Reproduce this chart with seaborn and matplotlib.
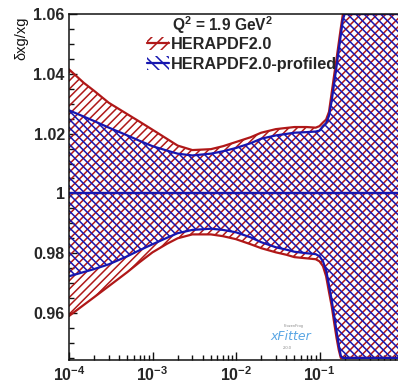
import matplotlib
matplotlib.use("Agg")
import matplotlib.pyplot as plt
from matplotlib.patches import Patch
from matplotlib.lines import Line2D
from matplotlib.legend_handler import HandlerTuple
from matplotlib.ticker import FixedLocator, FixedFormatter, LogLocator, NullFormatter, MultipleLocator
import seaborn as sns

# x grid and relative uncertainty bands of the gluon PDF at Q^2 = 1.9 GeV^2
x = [1e-4, 1.5e-4, 2e-4, 3e-4, 5e-4, 7e-4, 1e-3, 1.5e-3, 2e-3, 3e-3, 5e-3,
     7e-3, 1e-2, 1.5e-2, 2e-2, 3e-2, 4e-2, 5e-2, 7e-2, 0.09, 0.10, 0.11,
     0.12, 0.13, 0.14, 0.15, 0.16, 0.17, 0.18, 0.19, 0.20, 0.30, 0.50, 1.0]

hera_up = [1.0415, 1.0370, 1.0343, 1.0303, 1.0265, 1.0240, 1.0213, 1.0182,
           1.0160, 1.0145, 1.0148, 1.0158, 1.0172, 1.0188, 1.0203, 1.0215,
           1.0219, 1.0222, 1.0222, 1.0220, 1.0225, 1.0237, 1.0247, 1.0273,
           1.0337, 1.0397, 1.0450, 1.0503, 1.0553, 1.0597, 1.06, 1.06, 1.06,
           1.06]
hera_lo = [0.9590, 0.9627, 0.9653, 0.9690, 0.9737, 0.9770, 0.9803, 0.9832,
           0.9850, 0.9863, 0.9863, 0.9857, 0.9847, 0.9830, 0.9817, 0.9803,
           0.9795, 0.9787, 0.9783, 0.9780, 0.9773, 0.9757, 0.9723, 0.9670,
           0.9623, 0.9567, 0.9517, 0.9477, 0.945, 0.945, 0.945, 0.945, 0.945,
           0.945]
prof_up = [1.0278, 1.0257, 1.0242, 1.0220, 1.0194, 1.0176, 1.0158, 1.0143,
           1.0133, 1.0127, 1.0133, 1.0141, 1.0152, 1.0168, 1.0183, 1.0194,
           1.0199, 1.0203, 1.0205, 1.0207, 1.0210, 1.0225, 1.0235, 1.0260,
           1.0310, 1.0370, 1.0425, 1.0480, 1.0530, 1.0580, 1.06, 1.06, 1.06,
           1.06]
prof_lo = [0.9723, 0.9737, 0.9747, 0.9763, 0.9790, 0.9810, 0.9830, 0.9852,
           0.9867, 0.9878, 0.9882, 0.9878, 0.9870, 0.9853, 0.9837, 0.9820,
           0.9812, 0.9805, 0.9800, 0.9797, 0.9790, 0.9773, 0.9743, 0.9693,
           0.9643, 0.9590, 0.9540, 0.9493, 0.9457, 0.945, 0.945, 0.945, 0.945,
           0.945]
central = 1.0

x_ticks = [1e-4, 1e-3, 1e-2, 1e-1]
x_labels = ["$10^{-4}$", "$10^{-3}$", "$10^{-2}$", "$10^{-1}$"]
y_ticks = [0.96, 0.98, 1.00, 1.02, 1.04, 1.06]
y_labels = ["0.96", "0.98", "1", "1.02", "1.04", "1.06"]

labels = ["HERAPDF2.0", "HERAPDF2.0-profiled"]
RED = "#b01818"
BLUE = "#1616b0"
HATCH_RED = "////"
HATCH_BLUE = "\\\\\\\\"

sns.set_style("ticks")
plt.rcParams["font.family"] = ["Liberation Sans", "DejaVu Sans"]
plt.rcParams["mathtext.fontset"] = "custom"
plt.rcParams["mathtext.rm"] = "Liberation Sans:bold"
plt.rcParams["mathtext.it"] = "Liberation Sans:bold"
plt.rcParams["mathtext.bf"] = "Liberation Sans:bold"
plt.rcParams["hatch.linewidth"] = 1.1

fig = plt.figure(figsize=(3.98, 3.87), dpi=100)
ax = fig.add_axes([69 / 398, 27 / 387, 334 / 398, 346 / 387])
ax.set_xscale("log")

# hatched bands: HERAPDF2.0 underneath, profiled on top
ax.fill_between(x, hera_lo, hera_up, facecolor="none", edgecolor=RED,
                hatch=HATCH_RED, linewidth=0, zorder=1)
ax.fill_between(x, prof_lo, prof_up, facecolor="none", edgecolor=BLUE,
                hatch=HATCH_BLUE, linewidth=0, zorder=2)

for y, c, z in [(hera_up, RED, 3), (hera_lo, RED, 3),
                (prof_up, BLUE, 4), (prof_lo, BLUE, 4)]:
    sns.lineplot(x=x, y=y, ax=ax, color=c, linewidth=1.6, zorder=z,
                 estimator=None, sort=False)
sns.lineplot(x=x, y=[central] * len(x), ax=ax, color=RED, linewidth=1.6,
             zorder=3, estimator=None)
sns.lineplot(x=x, y=[central] * len(x), ax=ax, color=BLUE, linewidth=1.6,
             zorder=4, estimator=None)

ax.set_xlim(1e-4, 1.0)
ax.set_ylim(0.9443, 1.06)

for s in ["left", "bottom", "top", "right"]:
    ax.spines[s].set_linewidth(1.1)
    ax.spines[s].set_color("#111111")
    ax.spines[s].set_zorder(6)

ax.xaxis.set_major_locator(FixedLocator(x_ticks))
ax.xaxis.set_major_formatter(FixedFormatter(x_labels))
ax.xaxis.set_minor_locator(LogLocator(base=10, subs=range(2, 10), numticks=20))
ax.xaxis.set_minor_formatter(NullFormatter())
ax.yaxis.set_major_locator(FixedLocator(y_ticks))
ax.yaxis.set_major_formatter(FixedFormatter(y_labels))
ax.yaxis.set_minor_locator(MultipleLocator(0.005))

ax.tick_params(which="both", direction="in", color="#111111", width=1.0,
               top=False, right=False)
ax.tick_params(which="major", length=6)
ax.tick_params(which="minor", length=3.5)
ax.tick_params(axis="x", which="major", labelsize=11.5, pad=4)
ax.tick_params(axis="y", which="major", labelsize=11.5, pad=3)
for lab in ax.get_yticklabels():
    lab.set_fontweight("bold")
ax.set_xlabel("")
ax.set_ylabel("")

fig.text(21 / 398, 1 - 17 / 387, "\u03b4xg/xg", rotation=90, ha="center",
         va="top", fontsize=10.5, color="#111111")

fig.text(172 / 398, 1 - 31 / 387, r"$\mathrm{Q}^{2}$ = 1.9 GeV$^{2}$",
         ha="left", va="baseline", fontsize=11.2, fontweight="bold")

handles = [
    (Patch(facecolor="none", edgecolor=RED, hatch="///", linewidth=0),
     Line2D([], [], color=RED, linewidth=1.6)),
    (Patch(facecolor="none", edgecolor=BLUE, hatch="\\\\\\", linewidth=0),
     Line2D([], [], color=BLUE, linewidth=1.6)),
]
leg = ax.legend(handles, labels, handler_map={tuple: HandlerTuple(ndivide=1)},
                loc="upper left", bbox_to_anchor=(147 / 398, 1 - 37 / 387),
                bbox_transform=fig.transFigure, frameon=False,
                prop={"weight": "bold", "size": 11.7}, handlelength=1.35,
                handleheight=0.9, handletextpad=0.15, labelspacing=0.25,
                borderpad=0, borderaxespad=0)

# xFitter logo mark
fig.text(291 / 398, 1 - 337 / 387, "xFitter", ha="center", va="center",
         fontsize=9, style="italic", color="#5aa6e4", family="DejaVu Sans")
fig.text(294 / 398, 1 - 326 / 387, "FrozenFrog", ha="center", va="center",
         fontsize=2.8, color="#8a8a8a")
fig.text(287 / 398, 1 - 348 / 387, "2.0.0", ha="center", va="center",
         fontsize=3, color="#8a8a8a")

fig.savefig("out.png", dpi=100)
